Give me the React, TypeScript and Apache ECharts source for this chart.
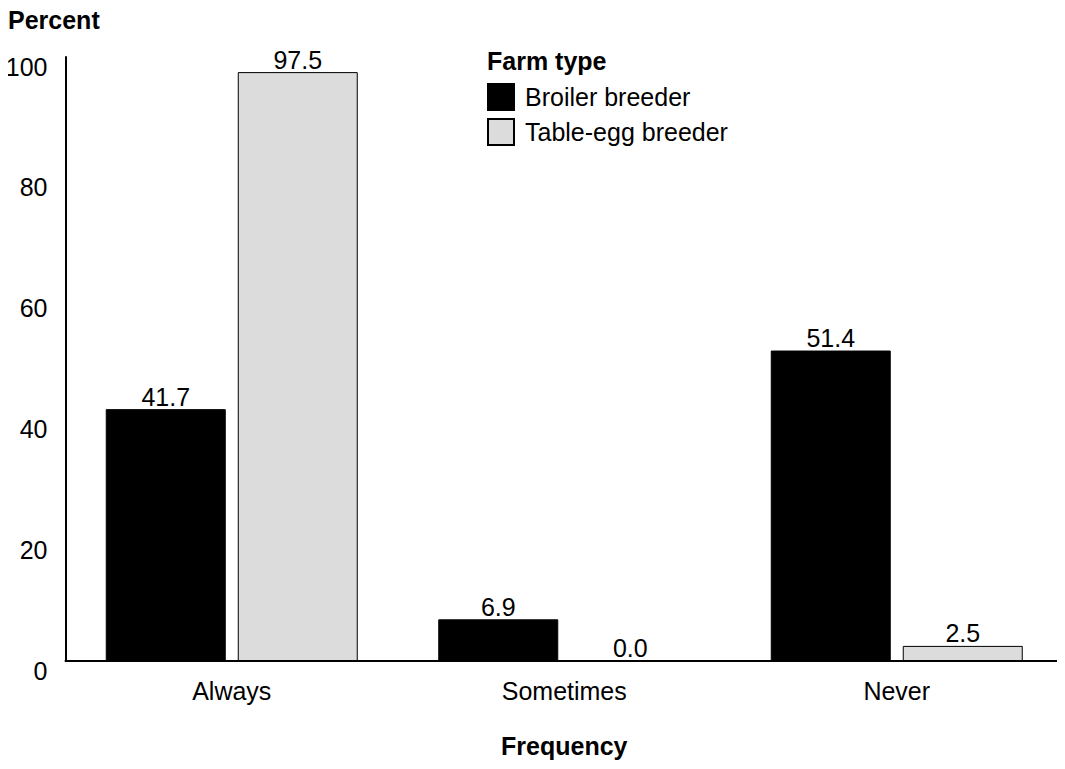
import React, { useEffect, useRef } from "react";
import * as echarts from "echarts";

const categories = ["Always", "Sometimes", "Never"];
const broiler = [41.7, 6.9, 51.4];
const tableEgg = [97.5, 0.0, 2.5];
const yTicks = [0, 20, 40, 60, 80, 100];

const FONT = "'Liberation Sans', Arial, sans-serif";
const FS = 25;

export default function App() {
  const ref = useRef<HTMLDivElement>(null);
  useEffect(() => {
    if (!ref.current) return;
    const chart = echarts.init(ref.current, undefined, { renderer: "svg" });
    const labelCfg = {
      show: true,
      position: "top",
      distance: 0,
      color: "#000",
      fontSize: FS,
      fontFamily: FONT,
      formatter: (p: any) => Number(p.value).toFixed(1),
    };
    chart.setOption({
      animation: false,
      backgroundColor: "#fff",
      textStyle: { fontFamily: FONT },
      grid: { left: 65.5, right: 2, top: 57, bottom: 108, containLabel: false },
      graphic: [
        {
          type: "text",
          left: 8,
          top: 7,
          style: { text: "Percent", fontSize: FS, fontWeight: "bold", fontFamily: FONT, fill: "#000" },
        },
        {
          type: "text",
          left: 487,
          top: 48,
          style: { text: "Farm type", fontSize: FS, fontWeight: "bold", fontFamily: FONT, fill: "#000" },
        },
      ],
      legend: {
        orient: "vertical",
        left: 482,
        top: 78,
        itemWidth: 26,
        itemHeight: 26,
        itemGap: 7,
        icon: "rect",
        textStyle: { fontSize: FS, color: "#000", fontFamily: FONT, padding: [0, 0, 0, 6] },
        data: ["Broiler breeder", "Table-egg breeder"],
      },
      xAxis: {
        type: "category",
        data: categories,
        axisLine: { show: true, lineStyle: { color: "#000", width: 2 } },
        axisTick: { show: false },
        axisLabel: { color: "#000", fontSize: FS, fontFamily: FONT, margin: 17 },
        name: "Frequency",
        nameLocation: "middle",
        nameGap: 72,
        nameTextStyle: { color: "#000", fontSize: FS, fontWeight: "bold", fontFamily: FONT },
      },
      yAxis: {
        type: "value",
        min: 0,
        max: 100,
        interval: 20,
        axisLine: { show: true, lineStyle: { color: "#000", width: 2 } },
        axisTick: { show: false },
        splitLine: { show: false },
        axisLabel: {
          color: "#000",
          fontSize: FS,
          fontFamily: FONT,
          margin: 18,
          verticalAlign: "top",
          lineHeight: 19,
          formatter: (v: number) => (yTicks.includes(v) ? String(v) : ""),
        },
      },
      series: [
        {
          name: "Broiler breeder",
          type: "bar",
          data: broiler,
          barWidth: 120,
          barGap: "10%",
          itemStyle: { color: "#000", borderColor: "#000", borderWidth: 1 },
          label: labelCfg,
        },
        {
          name: "Table-egg breeder",
          type: "bar",
          data: tableEgg,
          barWidth: 120,
          barGap: "10%",
          itemStyle: { color: "#dcdcdc", borderColor: "#000", borderWidth: 1 },
          label: labelCfg,
        },
      ],
    });
    return () => chart.dispose();
  }, []);
  return <div ref={ref} style={{ width: 1065, height: 769, margin: -8 }} />;
}
